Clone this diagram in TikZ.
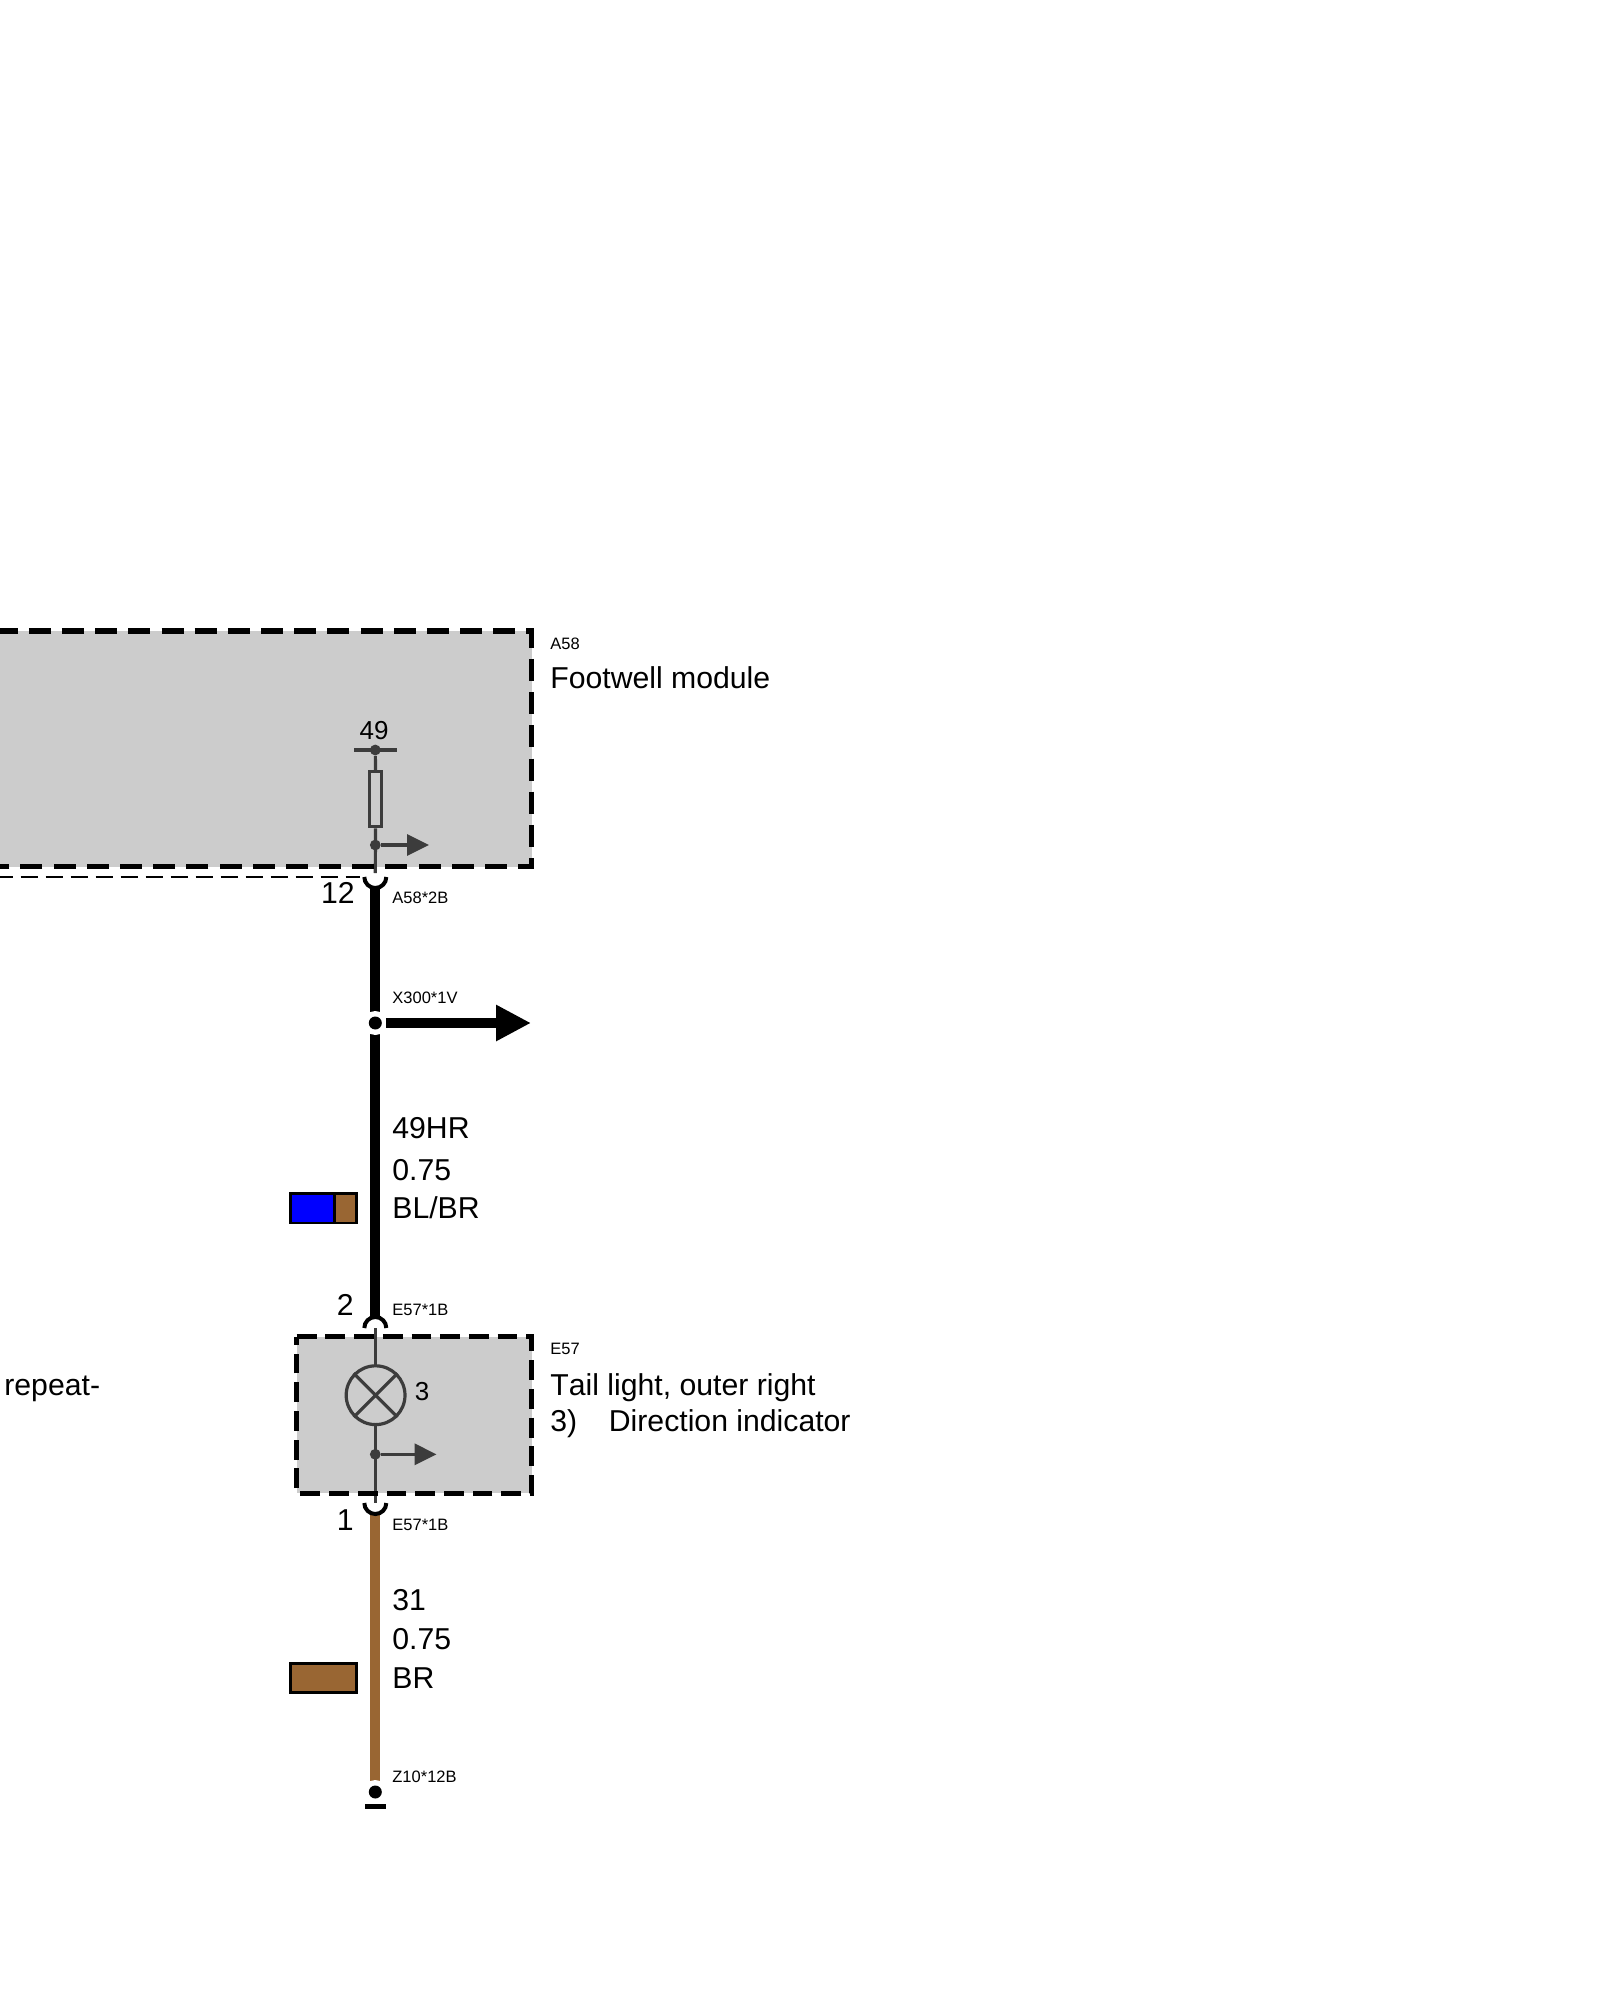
\documentclass[tikz,border=0pt]{standalone}
\usepackage{fontspec}
\setmainfont[Kerning=Off]{Liberation Sans}
\usetikzlibrary{arrows.meta,calc,positioning}

\begin{document}
\begin{tikzpicture}[x=0.5pt,y=-0.5pt,
    big/.style={inner sep=0pt,anchor=base west,font=\fontsize{15.1}{15.1}\selectfont},
    mid/.style={inner sep=0pt,anchor=base,font=\fontsize{13}{13}\selectfont},
    small/.style={inner sep=0pt,anchor=base west,font=\fontsize{8.25}{8.25}\selectfont},
    wire/.style={line width=5pt},
    thin wire/.style={line width=1.6pt,draw=inner},
    pin/.style={line width=2pt},
    dot/.style={circle,fill=inner,inner sep=0pt,minimum size=5.4pt},
    bigdot/.style={circle,fill=black,inner sep=0pt,minimum size=6.5pt},
    halo/.style={circle,fill=white,inner sep=0pt,minimum size=12pt},
    swatch/.style={draw=black,line width=1.35pt,inner sep=0pt,outer sep=0pt,minimum height=14.65pt},
    tap/.style={thin wire,-{Triangle[length=11pt,width=10.5pt]}}]
    \definecolor{inner}{HTML}{3C3C3C}
    \definecolor{boxgray}{HTML}{CCCCCC}
    \definecolor{wirebrown}{HTML}{996633}
    \definecolor{keyblue}{HTML}{0000FF}
    \useasboundingbox (0,0) rectangle (1600,2000);

    % housings
    \fill[boxgray] (0,631) rectangle (531.7,866.5);
    \fill[boxgray] (296.7,1336.8) rectangle (531.5,1493.4);

    % pins
    \coordinate (P12) at (375.3,877);
    \coordinate (P2) at (375.3,1328);
    \coordinate (P1) at (375.3,1503);

    % inside A58
    \node [dot] (N49) at (375.3,750) {};
    \node [dot] (NA) at (375.3,845) {};
    \node [draw=inner,line width=1.6pt,inner sep=0pt,minimum width=6.3pt,minimum height=27.6pt] (R) at (375.5,799.2) {};
    \coordinate (BarL) at (354,750);
    \coordinate (BarR) at (397,750);
    \coordinate (TipA) at (429,845);
    \coordinate (End12) at (375.3,873);
    \draw[thin wire] (BarL) -- (BarR);
    \draw[thin wire] (N49) -- (R.north);
    \draw[thin wire] (R.south) -- (End12);
    \draw[tap] (NA) -- (TipA);

    % inside E57
    \node [circle,draw=inner,line width=1.6pt,inner sep=0pt,minimum size=29.4pt] (L) at (375.6,1395.2) {};
    \node [dot] (NE) at (375.3,1454.3) {};
    \coordinate (TipE) at (436.5,1454.3);
    \draw[thin wire] (P2) -- (375.3,1365);
    \draw[thin wire] (375.3,1425) -- (P1);
    \draw[thin wire] (L.north west) -- (L.south east) (L.north east) -- (L.south west);
    \draw[tap] (NE) -- (TipE);

    % borders
    \draw[line width=2.7pt,dash pattern=on 11pt off 5.59pt] (-4.4,631) -- (531.7,631) -- (531.7,866.5) -- (-5,866.5);
    \draw[line width=2.4pt,dash pattern=on 9.9pt off 4.45pt] (296.7,1336.8) -- (531.5,1336.8) -- (531.5,1493.4) -- (296.7,1493.4) -- cycle;
    \coordinate (DashL) at (-4.3,877);
    \coordinate (DashR) at (360,877);
    \draw[line width=1.3pt,dash pattern=on 8.5pt off 4pt] (DashL) -- (DashR);

    % wires
    \draw[wire] ($(P12)+(0,10)$) -- ($(P2)+(0,-10)$);
    \draw[wire,wirebrown] ($(P1)+(0,10)$) -- (375.3,1785);
    \draw[pin] ($(P12)+(-11,0)$) arc (180:0:11);
    \draw[pin] ($(P2)+(-11,0)$) arc (-180:0:11);
    \draw[pin] ($(P1)+(-11,0)$) arc (180:0:11);

    % splice
    \node [halo] (H) at (375.3,1023) {};
    \node [bigdot] (S) at (375.3,1023) {};
    \coordinate (TipS) at (531,1023);
    \draw[wire,-{Triangle[length=17.5pt,width=17pt]}] (386,1023) -- (TipS);

    % ground
    \node [halo] (HG) at (375.3,1792) {};
    \node [bigdot] (G) at (375.3,1792) {};
    \fill (365.3,1804) rectangle (385.7,1809.3);

    % colour keys
    \node [swatch,fill=keyblue,minimum width=22pt,anchor=west] (KB) at (290.65,1208.3) {};
    \node [swatch,fill=wirebrown,minimum width=11pt,right=0pt of KB] (KC) {};
    \node [swatch,fill=wirebrown,minimum width=33pt,anchor=west] (KD) at (290.65,1677.8) {};

    % labels
    \node [small] (LA) at (550,649) {A58};
    \node [big] (LB) at (550,688) {Footwell module};
    \node [mid] (L49) at (374,739) {49};
    \node [big,anchor=base east] (L12) at (355,903) {12};
    \node [small] (LC) at (392,903) {A58*2B};
    \node [small] (LD) at (392,1003) {X300*1V};
    \node [big] (LE) at (392,1138) {49HR};
    \node [big] (LF) at (392,1180) {0.75};
    \node [big] (LG) at (392,1218) {BL/BR};
    \node [big,anchor=base east] (L2) at (354,1315) {2};
    \node [small] (LH) at (392,1315) {E57*1B};
    \node [small] (LI) at (550,1354) {E57};
    \node [mid,anchor=base west] (L3) at (414.5,1400.5) {3};
    \node [big] (LJ) at (550,1395) {Tail light, outer right};
    \node [big] (LK) at (550,1431) {3)};
    \node [big] (LL) at (608.5,1431) {Direction indicator};
    \node [big] (LM) at (4,1395) {repeat-};
    \node [big,anchor=base east] (L1) at (354,1530) {1};
    \node [small] (LN) at (392,1530) {E57*1B};
    \node [big] (LO) at (392,1610) {31};
    \node [big] (LP) at (392,1649) {0.75};
    \node [big] (LQ) at (392,1688) {BR};
    \node [small] (LR) at (392,1782) {Z10*12B};
\end{tikzpicture}
\end{document}
